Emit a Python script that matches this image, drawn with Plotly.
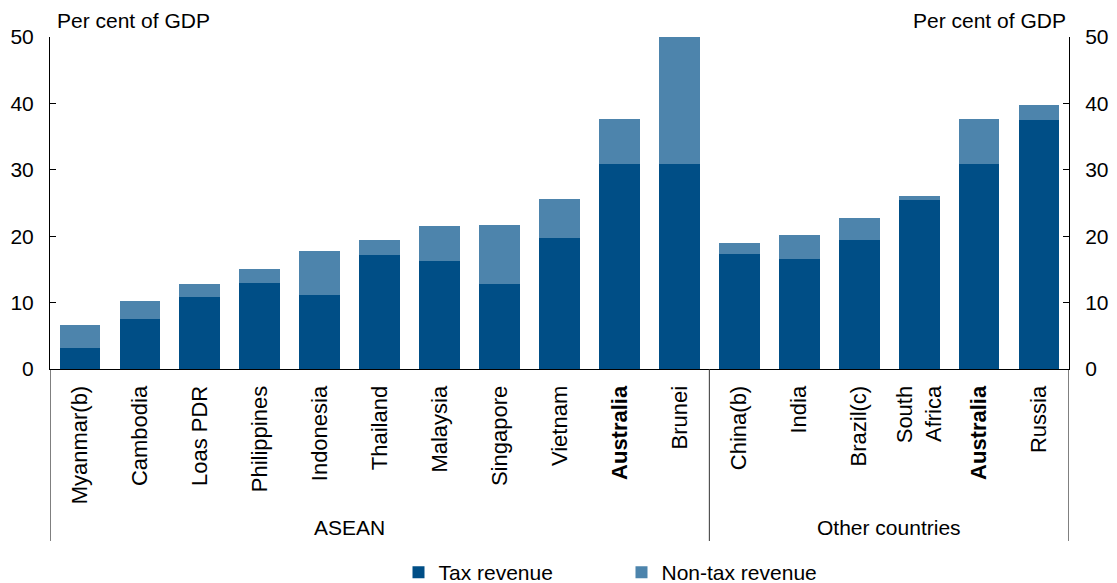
import plotly.graph_objects as go

# Government revenue, per cent of GDP
countries = ["Myanmar(b)", "Cambodia", "Loas PDR", "Philippines", "Indonesia", "Thailand",
             "Malaysia", "Singapore", "Vietnam", "<b>Australia</b>", "Brunei",
             "China(b)", "India", "Brazil(c)", "South<br>Africa", "<b>Australia</b>", "Russia"]
tax_revenue = [3.2, 7.6, 10.8, 12.9, 11.1, 17.1, 16.2, 12.8, 19.7, 30.9, 30.8,
               17.3, 16.5, 19.4, 25.4, 30.9, 37.5]
total_revenue = [6.6, 10.3, 12.8, 15.0, 17.7, 19.4, 21.5, 21.7, 25.6, 37.6, 50.0,
                 19.0, 20.2, 22.8, 26.0, 37.6, 39.8]
non_tax_revenue = [round(t - x, 1) for t, x in zip(total_revenue, tax_revenue)]
y_ticks = [0, 10, 20, 30, 40, 50]

FONT = "Arial, Liberation Sans, sans-serif"
DARK = "#004E86"
LIGHT = "#4D84AC"

x = list(range(len(countries)))

fig = go.Figure()
fig.add_trace(go.Bar(x=x, y=tax_revenue, name="Tax revenue", marker_color=DARK,
                     marker_line_width=0, width=0.68))
fig.add_trace(go.Bar(x=x, y=non_tax_revenue, name="Non-tax revenue", marker_color=LIGHT,
                     marker_line_width=0, width=0.68))
# invisible trace to activate the right-hand axis
fig.add_trace(go.Scatter(x=[0], y=[0], yaxis="y2", mode="markers",
                         marker_opacity=0, showlegend=False, hoverinfo="skip"))

axis_common = dict(range=[0, 50], tickvals=y_ticks, ticks="inside", ticklen=6,
                   tickcolor="black", showline=True, linecolor="black", linewidth=1,
                   showgrid=False, zeroline=False, ticklabelstandoff=11,
                   tickfont=dict(family=FONT, size=21, color="black"))

fig.update_layout(
    width=1117, height=583,
    margin=dict(l=50, r=48, t=37, b=214, autoexpand=False),
    plot_bgcolor="white", paper_bgcolor="white",
    barmode="stack", bargap=0.32,
    xaxis=dict(range=[-0.5, len(countries) - 0.5], tickvals=x, ticktext=countries,
               tickangle=-90, showline=True, linecolor="black", linewidth=1,
               ticks="", showgrid=False, zeroline=False, ticklabelstandoff=7,
               tickfont=dict(family=FONT, size=22, color="black")),
    yaxis=dict(side="left", **axis_common),
    yaxis2=dict(side="right", overlaying="y", **axis_common),
    showlegend=True,
    legend=dict(orientation="h", x=0.342, xanchor="left", y=-0.613, yanchor="middle",
                traceorder="normal",
                font=dict(family=FONT, size=21, color="black"),
                itemwidth=30, entrywidth=178, bgcolor="rgba(0,0,0,0)"),
    font=dict(family=FONT, color="black"),
)

# Axis units
fig.add_annotation(text="Per cent of GDP", xref="paper", yref="paper", x=0, y=1,
                   xshift=5, yshift=3, xanchor="left", yanchor="bottom", showarrow=False,
                   font=dict(family=FONT, size=21, color="black"))
fig.add_annotation(text="Per cent of GDP", xref="paper", yref="paper", x=1, y=1,
                   xshift=-1, yshift=3, xanchor="right", yanchor="bottom", showarrow=False,
                   font=dict(family=FONT, size=21, color="black"))

# Group labels and dividers
line_bottom = -0.518
for xpos, label in [(4.5, "ASEAN"), (13.5, "Other countries")]:
    fig.add_annotation(text=label, xref="x", yref="paper", x=xpos, y=-0.476,
                       yanchor="middle", showarrow=False,
                       font=dict(family=FONT, size=21, color="black"))
for xd in [-0.5, 10.5, len(countries) - 0.5]:
    fig.add_shape(type="line", xref="x", yref="paper", x0=xd, x1=xd, y0=0, y1=line_bottom,
                  line=dict(color="#333333" if xd == 10.5 else "black", width=1))

fig.write_html("out.html")
